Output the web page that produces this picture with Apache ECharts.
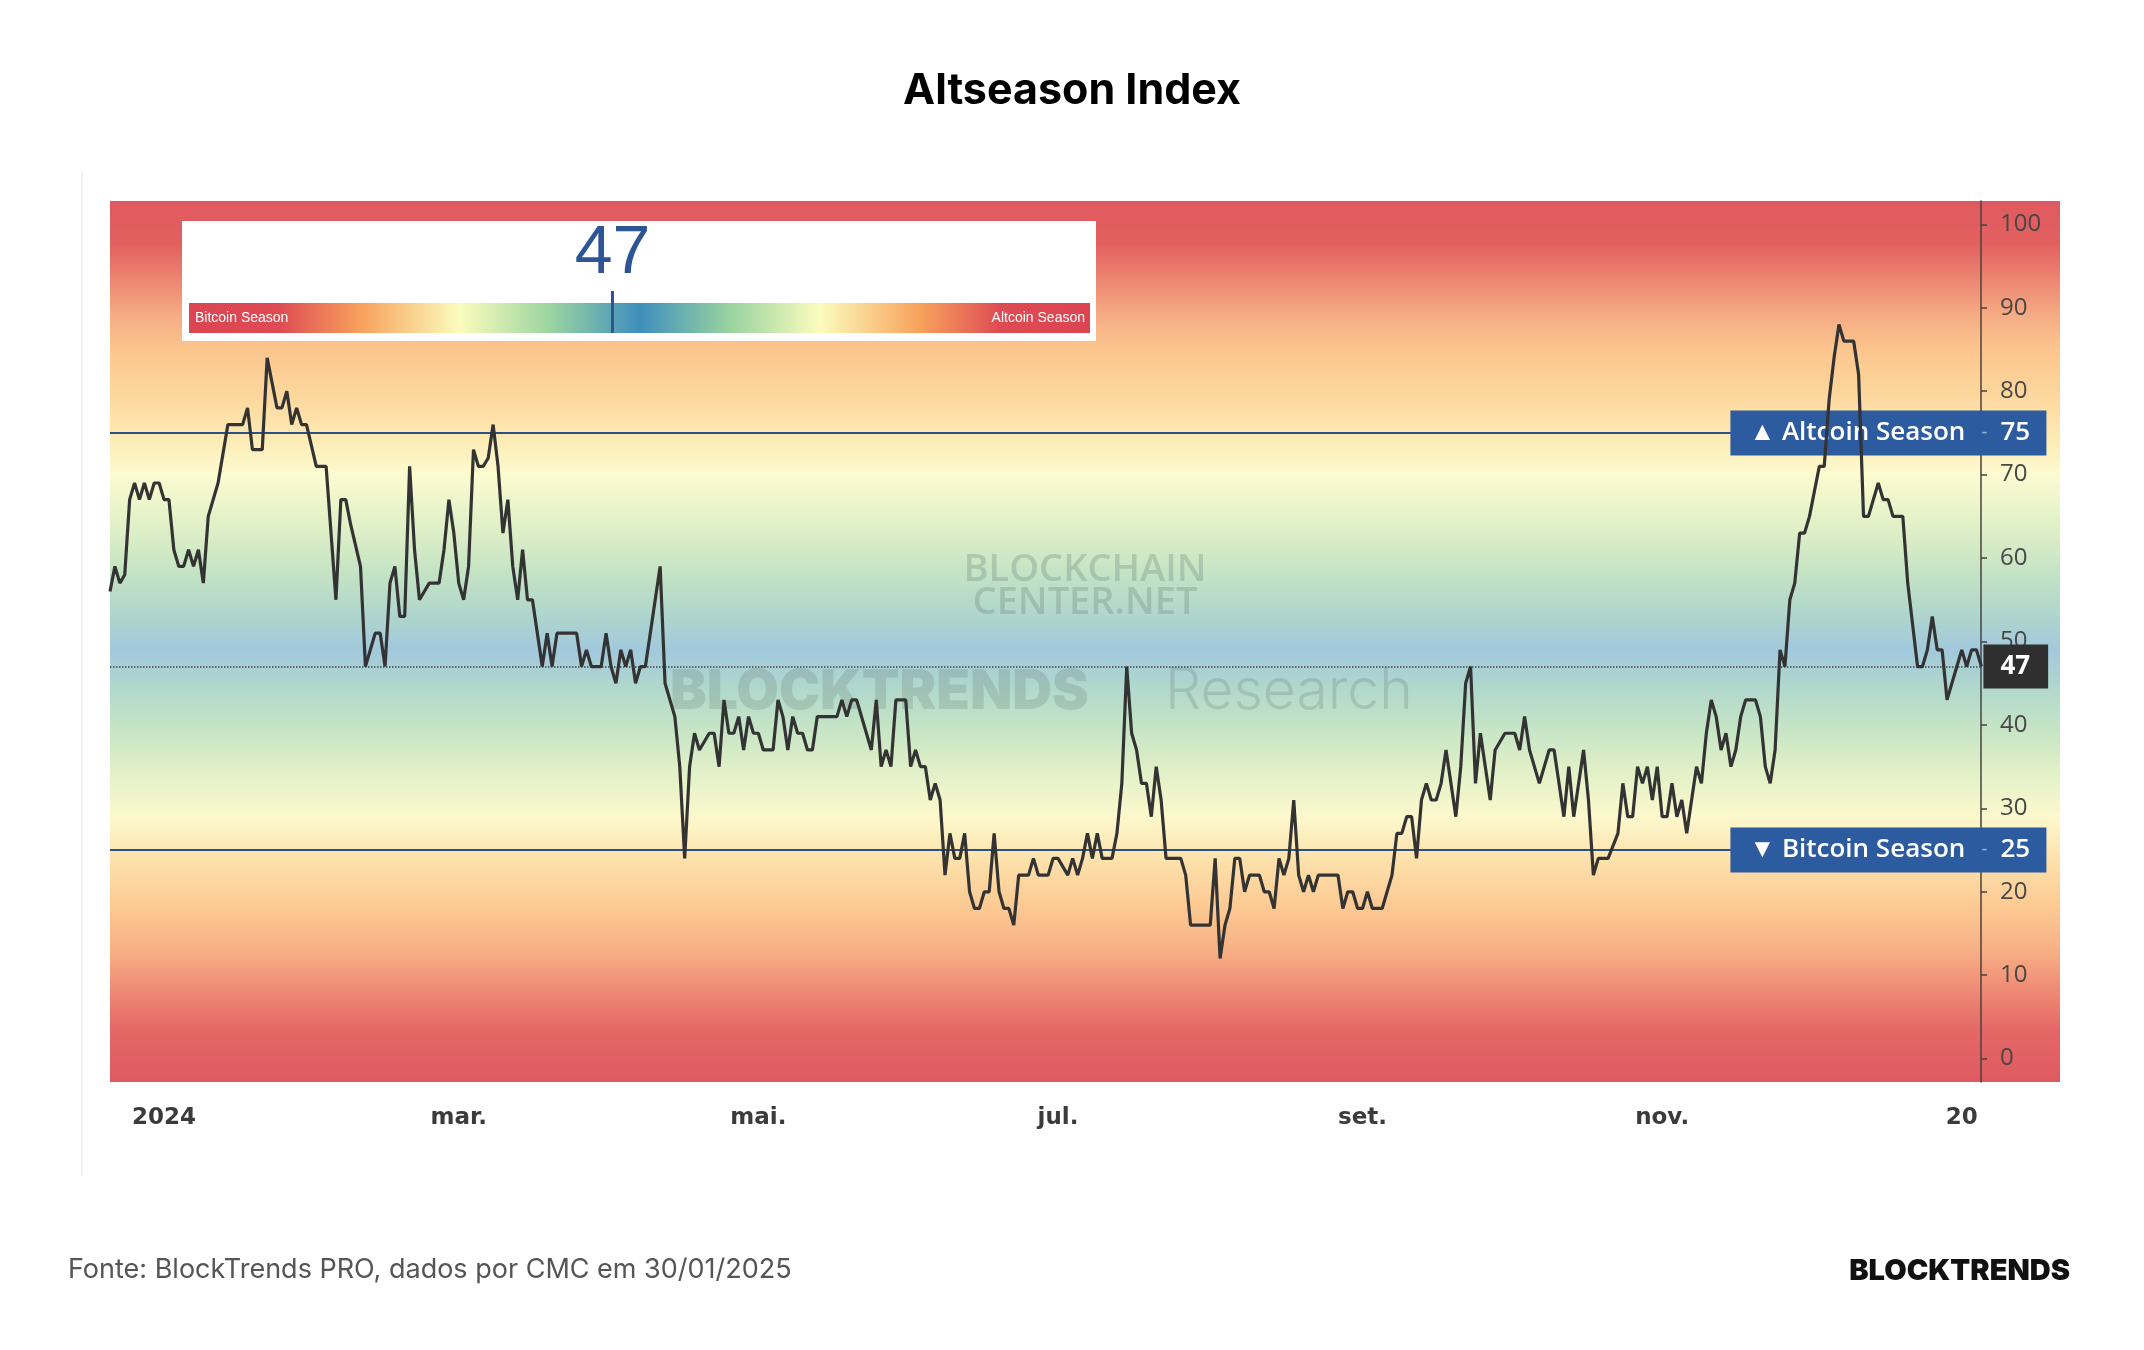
<!DOCTYPE html>
<html>
<head>
<meta charset="utf-8">
<title>Altseason Index</title>
<script src="https://cdn.jsdelivr.net/npm/echarts@6/dist/echarts.min.js"></script>
<style>
  html, body { margin: 0; padding: 0; background: #fff; }
  #chart { width: 2144px; height: 1350px; }
</style>
</head>
<body>
<div id="chart"></div>
<script>
  // dias contados a partir de 01/01/2024
  const dayOffsets = [
    -11, -10, -9, -8, -7, -6, -5, -4, -3, -2, -1, 0, 1, 2, 3, 4, 5, 6, 7, 8, 9, 11, 13, 16, 17, 18, 20, 21, 23, 24,
    25, 26, 27, 28, 29, 31, 33, 35, 36, 37, 38, 40, 41, 43, 44, 45, 46, 47, 48, 49, 50, 51, 52, 54, 56, 57, 58, 59, 60, 61,
    62, 63, 64, 65, 66, 67, 68, 69, 70, 71, 72, 73, 74, 75, 77, 78, 79, 80, 84, 85, 86, 87, 89, 90, 91, 92, 93, 94, 95, 96,
    97, 98, 101, 102, 104, 105, 106, 107, 108, 109, 111, 112, 113, 114, 115, 116, 117, 118, 119, 120, 121, 122, 124, 125, 126, 127, 128, 129, 130, 131,
    132, 133, 137, 138, 139, 140, 141, 144, 145, 146, 147, 148, 149, 151, 152, 153, 154, 155, 156, 157, 158, 159, 160, 161, 162, 163, 164, 165, 166, 167,
    168, 169, 170, 171, 172, 173, 174, 176, 177, 178, 180, 181, 182, 184, 185, 186, 187, 188, 189, 190, 191, 193, 194, 195, 196, 197, 198, 199, 200, 201,
    202, 203, 204, 207, 208, 209, 213, 214, 215, 216, 217, 218, 219, 220, 221, 223, 224, 225, 226, 227, 228, 229, 230, 231, 232, 233, 234, 235, 239, 240,
    241, 242, 243, 244, 245, 246, 248, 250, 251, 252, 253, 254, 255, 256, 257, 258, 259, 260, 261, 262, 263, 264, 265, 266, 267, 268, 269, 270, 271, 273,
    275, 276, 277, 278, 280, 282, 283, 284, 285, 286, 287, 289, 290, 291, 292, 294, 296, 297, 298, 299, 300, 301, 302, 303, 304, 305, 306, 307, 308, 309,
    310, 311, 312, 313, 314, 315, 316, 317, 318, 319, 320, 321, 322, 324, 325, 326, 327, 328, 329, 330, 331, 332, 333, 334, 335, 337, 338, 339, 340, 341,
    342, 344, 345, 346, 347, 348, 349, 350, 351, 352, 354, 355, 357, 358, 359, 360, 361, 362, 363, 365, 366, 367, 368, 369, 370
  ]
  const altIndex = [
    56, 59, 57, 58, 67, 69, 67, 69, 67, 69, 69, 67, 67, 61, 59, 59, 61, 59, 61, 57, 65, 69, 76, 76, 78, 73, 73, 84, 78, 78,
    80, 76, 78, 76, 76, 71, 71, 55, 67, 67, 64, 59, 47, 51, 51, 47, 57, 59, 53, 53, 71, 61, 55, 57, 57, 61, 67, 63, 57, 55,
    59, 73, 71, 71, 72, 76, 71, 63, 67, 59, 55, 61, 55, 55, 47, 51, 47, 51, 51, 47, 49, 47, 47, 51, 47, 45, 49, 47, 49, 45,
    47, 47, 59, 45, 41, 35, 24, 35, 39, 37, 39, 39, 35, 43, 39, 39, 41, 37, 41, 39, 39, 37, 37, 43, 41, 37, 41, 39, 39, 37,
    37, 41, 41, 43, 41, 43, 43, 37, 43, 35, 37, 35, 43, 43, 35, 37, 35, 35, 31, 33, 31, 22, 27, 24, 24, 27, 20, 18, 18, 20,
    20, 27, 20, 18, 18, 16, 22, 22, 24, 22, 22, 24, 24, 22, 24, 22, 24, 27, 24, 27, 24, 24, 27, 33, 47, 39, 37, 33, 33, 29,
    35, 31, 24, 24, 22, 16, 16, 24, 12, 16, 18, 24, 24, 20, 22, 22, 20, 20, 18, 24, 22, 24, 31, 22, 20, 22, 20, 22, 22, 18,
    20, 20, 18, 18, 20, 18, 18, 22, 27, 27, 29, 29, 24, 31, 33, 31, 31, 33, 37, 33, 29, 35, 45, 47, 33, 39, 35, 31, 37, 39,
    39, 37, 41, 37, 33, 37, 37, 33, 29, 35, 29, 37, 31, 22, 24, 24, 27, 33, 29, 29, 35, 33, 35, 31, 35, 29, 29, 33, 29, 31,
    27, 31, 35, 33, 39, 43, 41, 37, 39, 35, 37, 41, 43, 43, 41, 35, 33, 37, 49, 47, 55, 57, 63, 63, 65, 71, 71, 79, 84, 88,
    86, 86, 82, 65, 65, 67, 69, 67, 67, 65, 65, 57, 47, 47, 49, 53, 49, 49, 43, 47, 49, 47, 49, 49, 47
  ]

  const monthTicks = [0, 60, 121, 182, 244, 305, 366]
  const monthLabels = ['2024', 'mar.', 'mai.', 'jul.', 'set.', 'nov.', '20']
  const yTicks = [0, 10, 20, 30, 40, 50, 60, 70, 80, 90, 100]

  const altcoinLevel = 75
  const bitcoinLevel = 25
  const currentValue = 47
  const lastDay = dayOffsets[dayOffsets.length - 1]

  const chart = echarts.init(document.getElementById('chart'))

  // faixa de cores do fundo (100 em cima, 0 em baixo)
  const bandColor = {
    type: 'linear', x: 0, y: 0, x2: 0, y2: 1,
    colorStops: [
      { offset: 0.00, color: '#df5a60' },
      { offset: 0.05, color: '#e2615f' },
      { offset: 0.09, color: '#ec8672' },
      { offset: 0.13, color: '#f6ac84' },
      { offset: 0.17, color: '#fcc68e' },
      { offset: 0.22, color: '#fdd79d' },
      { offset: 0.27, color: '#fdebb4' },
      { offset: 0.31, color: '#fcfbd0' },
      { offset: 0.37, color: '#e0f0c7' },
      { offset: 0.42, color: '#c5e4c4' },
      { offset: 0.47, color: '#afd5cd' },
      { offset: 0.51, color: '#a2c9dc' },
      { offset: 0.55, color: '#afd7cd' },
      { offset: 0.60, color: '#c6e5c5' },
      { offset: 0.65, color: '#e3f1c8' },
      { offset: 0.70, color: '#fcf8cc' },
      { offset: 0.75, color: '#fde0aa' },
      { offset: 0.80, color: '#fcca93' },
      { offset: 0.85, color: '#f8b085' },
      { offset: 0.89, color: '#f08f77' },
      { offset: 0.94, color: '#e46866' },
      { offset: 1.00, color: '#df5a60' }
    ]
  }

  // gauge no canto superior
  const gauge = { x: 189, y: 303, w: 901, h: 30 }
  const markerX = gauge.x + gauge.w * currentValue / 100

  const seasonLabel = (arrow, name, level) => ({
    show: true,
    position: 'insideEnd',
    distance: -65,
    backgroundColor: '#2d5b9f',
    padding: [7, 18, 7, 19],
    formatter: '{a|' + arrow + ' ' + name + '}{t|-}{v|' + level + '}',
    rich: {
      a: { width: 228, align: 'left', color: '#fff', fontFamily: 'Open Sans', fontWeight: 600, fontSize: 26, lineHeight: 31 },
      t: { width: 19, align: 'left', color: 'rgba(255,255,255,0.5)', fontSize: 18, lineHeight: 31, padding: [0, 0, 0, 4] },
      v: { width: 28, align: 'left', color: '#fff', fontFamily: 'Open Sans', fontWeight: 600, fontSize: 26, lineHeight: 31 }
    }
  })

  chart.setOption({
    backgroundColor: '#fff',
    animation: false,
    title: {
      text: 'Altseason Index',
      left: 'center',
      top: 65,
      textStyle: { fontFamily: 'Inter', fontWeight: 700, fontSize: 43, color: '#000' }
    },
    grid: {
      left: 110,
      right: 84,
      top: 201,
      bottom: 268,
      show: true,
      backgroundColor: bandColor,
      borderWidth: 0
    },
    xAxis: {
      type: 'value',
      min: -11,
      max: 386,
      axisLine: { show: false, onZero: false },
      axisTick: { show: false },
      splitLine: { show: false },
      axisLabel: {
        customValues: monthTicks,
        formatter: v => monthLabels[monthTicks.indexOf(v)],
        margin: 25,
        fontFamily: 'DejaVu Sans',
        fontWeight: 'bold',
        fontSize: 23,
        color: '#3b3b3b'
      }
    },
    yAxis: {
      type: 'value',
      position: 'right',
      offset: -79,
      min: -2.8,
      max: 102.8,
      axisLine: { show: true, onZero: false, lineStyle: { color: '#4a4040', width: 1.5 } },
      axisTick: { show: true, customValues: yTicks, length: 6, lineStyle: { color: '#4a4040', width: 1.5 } },
      splitLine: { show: false },
      axisLabel: {
        customValues: yTicks,
        margin: 19,
        fontFamily: 'Open Sans',
        fontSize: 24,
        color: '#474747'
      }
    },
    series: [{
      type: 'line',
      data: dayOffsets.map((d, i) => [d, altIndex[i]]),
      symbol: 'none',
      z: 3,
      lineStyle: { color: '#333', width: 3.2 },
      markLine: {
        silent: true,
        symbol: 'none',
        z: 1,
        data: [
          [
            { coord: [-11, altcoinLevel], lineStyle: { type: 'solid', color: '#2a5088', width: 2 },
              label: seasonLabel('▲', 'Altcoin Season', altcoinLevel) },
            { coord: [lastDay, altcoinLevel] }
          ],
          [
            { coord: [-11, bitcoinLevel], lineStyle: { type: 'solid', color: '#2a5088', width: 2 },
              label: seasonLabel('▼', 'Bitcoin Season', bitcoinLevel) },
            { coord: [lastDay, bitcoinLevel] }
          ],
          [
            { coord: [-11, currentValue], lineStyle: { type: 'dotted', color: '#444', width: 1.5 },
              label: {
                show: true, position: 'end', distance: 2,
                backgroundColor: '#2f2f2f', padding: [9, 18, 9, 17],
                formatter: String(currentValue),
                color: '#fff', fontFamily: 'Open Sans', fontWeight: 700, fontSize: 26, lineHeight: 26
              } },
            { coord: [lastDay, currentValue] }
          ]
        ]
      }
    }],
    graphic: [
      // borda fina do quadro
      { type: 'line', z: 0, shape: { x1: 82, y1: 171, x2: 82, y2: 1176 }, style: { stroke: '#ececec', lineWidth: 1.5 } },
      // marcas d'agua
      { type: 'text', z: 1, x: 1085, y: 570, style: { text: 'BLOCKCHAIN', fill: 'rgba(105,125,118,0.3)', fontFamily: 'Open Sans', fontWeight: 600, fontSize: 38, textAlign: 'center', textVerticalAlign: 'middle' } },
      { type: 'text', z: 1, x: 1085, y: 603, style: { text: 'CENTER.NET', fill: 'rgba(105,125,118,0.3)', fontFamily: 'Open Sans', fontWeight: 600, fontSize: 38, textAlign: 'center', textVerticalAlign: 'middle' } },
      { type: 'text', z: 1, x: 670, y: 692, style: { text: 'BLOCKTRENDS', fill: 'rgba(95,115,105,0.22)', fontFamily: 'Inter', fontWeight: 900, fontSize: 55, textAlign: 'left', textVerticalAlign: 'middle' } },
      { type: 'text', z: 1, x: 1165, y: 692, style: { text: 'Research', fill: 'rgba(105,120,115,0.25)', fontFamily: 'Inter', fontWeight: 300, fontSize: 57, textAlign: 'left', textVerticalAlign: 'middle' } },
      // gauge
      { type: 'rect', z: 10, shape: { x: 182, y: 221, width: 914, height: 120 }, style: { fill: '#fff' } },
      {
        type: 'rect', z: 11,
        shape: { x: gauge.x, y: gauge.y, width: gauge.w, height: gauge.h },
        style: {
          fill: {
            type: 'linear', x: 0, y: 0, x2: 1, y2: 0,
            colorStops: [
              { offset: 0.00, color: '#dc4452' },
              { offset: 0.10, color: '#de4b53' },
              { offset: 0.19, color: '#f7a15c' },
              { offset: 0.30, color: '#fbfcbd' },
              { offset: 0.40, color: '#9cd5a0' },
              { offset: 0.50, color: '#3f8fbd' },
              { offset: 0.60, color: '#98d39f' },
              { offset: 0.70, color: '#fbfcbd' },
              { offset: 0.81, color: '#f8a35c' },
              { offset: 0.90, color: '#de4b53' },
              { offset: 1.00, color: '#dc4452' }
            ]
          }
        }
      },
      { type: 'text', z: 12, x: gauge.x + 6, y: gauge.y + gauge.h / 2, style: { text: 'Bitcoin Season', fill: '#fff', fontFamily: 'Liberation Sans', fontSize: 14, textAlign: 'left', textVerticalAlign: 'middle' } },
      { type: 'text', z: 12, x: gauge.x + gauge.w - 5, y: gauge.y + gauge.h / 2, style: { text: 'Altcoin Season', fill: '#fff', fontFamily: 'Liberation Sans', fontSize: 14, textAlign: 'right', textVerticalAlign: 'middle' } },
      { type: 'line', z: 12, shape: { x1: markerX, y1: 291, x2: markerX, y2: gauge.y + gauge.h }, style: { stroke: '#2d5596', lineWidth: 3 } },
      { type: 'text', z: 12, x: markerX, y: 254, style: { text: String(currentValue), fill: '#2d5596', fontFamily: 'Liberation Sans', fontSize: 68, textAlign: 'center', textVerticalAlign: 'middle' } },
      // rodape
      { type: 'text', x: 68, y: 1270, style: { text: 'Fonte: BlockTrends PRO, dados por CMC em 30/01/2025', fill: '#555', fontFamily: 'Inter', fontSize: 27, textAlign: 'left', textVerticalAlign: 'middle' } },
      { type: 'text', x: 2070, y: 1271, style: { text: 'BLOCKTRENDS', fill: '#111', fontFamily: 'Inter', fontWeight: 900, fontSize: 29, textAlign: 'right', textVerticalAlign: 'middle' } }
    ]
  })
</script>
</body>
</html>
